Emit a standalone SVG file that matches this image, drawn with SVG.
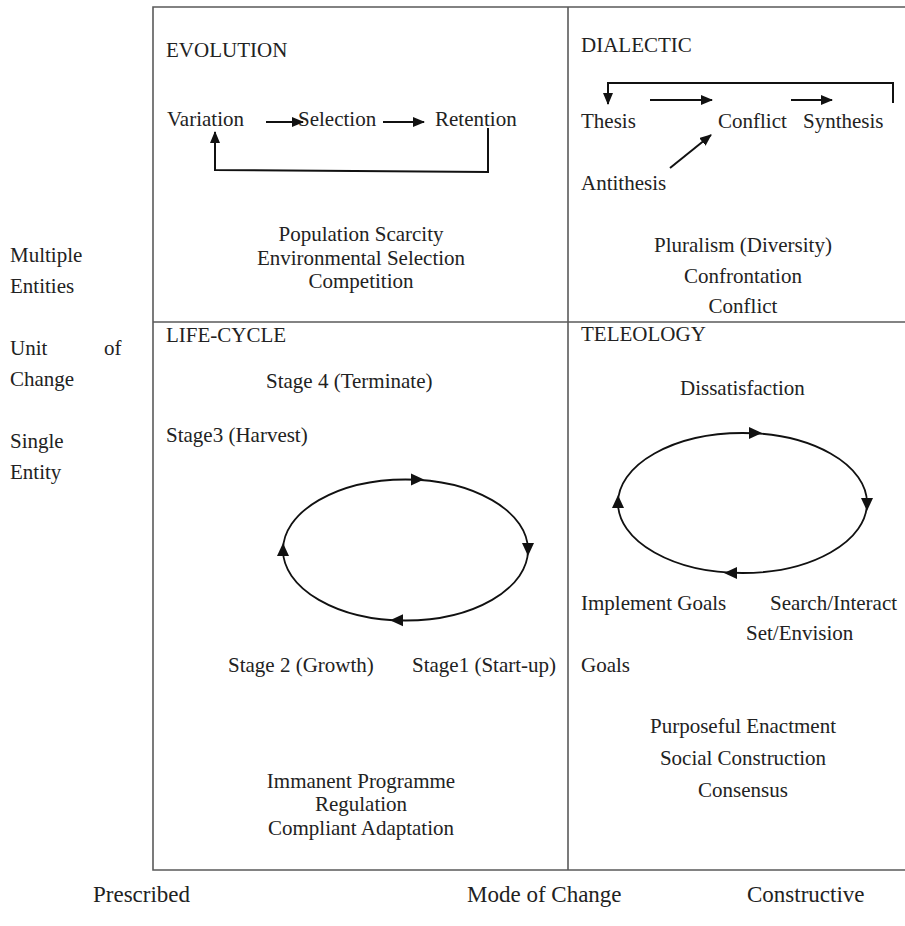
<svg xmlns="http://www.w3.org/2000/svg" width="905" height="926" viewBox="0 0 905 926">
  <style>
    text { font-family: "Liberation Serif", "Times New Roman", serif; font-size: 21px; fill: #222; }
    .axis { font-size: 23px; }
    .mid { text-anchor: middle; }
    .frame { stroke: #5a5a5a; stroke-width: 1.6; fill: none; }
    .flow { stroke: #111; stroke-width: 2; fill: none; }
    .ring { stroke: #111; stroke-width: 1.8; fill: none; }
    .head { fill: #111; }
  </style>
  <defs>
    <marker id="arrow" viewBox="0 0 12 10" refX="11" refY="5" markerWidth="12" markerHeight="10" markerUnits="userSpaceOnUse" orient="auto">
      <path d="M0,0 L12,5 L0,10 Z" fill="#111"/>
    </marker>
    <!-- arrowhead with its tip at the origin, pointing along +x -->
    <path id="tip" d="M0,0 L-13,-6 L-13,6 Z"/>
  </defs>

  <rect width="905" height="926" fill="#fff"/>

  <!-- quadrant frame -->
  <g id="frame">
    <path class="frame" d="M905,7 H153 V870 H905"/>
    <line class="frame" x1="568" y1="7" x2="568" y2="870"/>
    <line class="frame" x1="153" y1="322" x2="905" y2="322"/>
  </g>

  <!-- axis labels -->
  <g id="unit-axis">
    <text x="10" y="262">Multiple</text>
    <text x="10" y="293">Entities</text>
    <text x="10" y="355">Unit</text>
    <text x="104" y="355">of</text>
    <text x="10" y="386">Change</text>
    <text x="10" y="448">Single</text>
    <text x="10" y="479">Entity</text>
  </g>
  <g id="mode-axis">
    <text class="axis" x="93" y="902">Prescribed</text>
    <text class="axis" x="467" y="902">Mode of Change</text>
    <text class="axis" x="747" y="902">Constructive</text>
  </g>

  <!-- EVOLUTION -->
  <g id="evolution">
    <text x="166" y="57">EVOLUTION</text>
    <text x="361" y="241" class="mid">Population Scarcity</text>
    <text x="361" y="265" class="mid">Environmental Selection</text>
    <text x="361" y="288" class="mid">Competition</text>
  </g>
  <g id="variation"><text x="167" y="126">Variation</text></g>
  <g id="selection"><text x="298" y="126">Selection</text></g>
  <g id="retention"><text x="435" y="126">Retention</text></g>

  <!-- DIALECTIC -->
  <g id="dialectic">
    <text x="581" y="52">DIALECTIC</text>
    <text x="743" y="252" class="mid">Pluralism (Diversity)</text>
    <text x="743" y="283" class="mid">Confrontation</text>
    <text x="743" y="313" class="mid">Conflict</text>
  </g>
  <g id="thesis"><text x="581" y="128">Thesis</text></g>
  <g id="conflict"><text x="718" y="128">Conflict</text></g>
  <g id="synthesis"><text x="803" y="128">Synthesis</text></g>
  <g id="antithesis"><text x="581" y="190">Antithesis</text></g>

  <!-- LIFE-CYCLE -->
  <g id="life-cycle">
    <text x="166" y="342">LIFE-CYCLE</text>
    <text x="361" y="788" class="mid">Immanent Programme</text>
    <text x="361" y="811" class="mid">Regulation</text>
    <text x="361" y="835" class="mid">Compliant Adaptation</text>
  </g>
  <g id="stage4"><text x="266" y="388">Stage 4 (Terminate)</text></g>
  <g id="stage3"><text x="166" y="442">Stage3 (Harvest)</text></g>
  <g id="stage2"><text x="228" y="672">Stage 2 (Growth)</text></g>
  <g id="stage1"><text x="412" y="672">Stage1 (Start-up)</text></g>

  <!-- TELEOLOGY -->
  <g id="teleology">
    <text x="581" y="341">TELEOLOGY</text>
    <text x="743" y="733" class="mid">Purposeful Enactment</text>
    <text x="743" y="765" class="mid">Social Construction</text>
    <text x="743" y="797" class="mid">Consensus</text>
  </g>
  <g id="dissatisfaction"><text x="680" y="395">Dissatisfaction</text></g>
  <g id="search"><text x="770" y="610">Search/Interact</text></g>
  <g id="envision"><text x="746" y="640">Set/Envision</text></g>
  <g id="goals"><text x="581" y="672">Goals</text></g>
  <g id="implement"><text x="581" y="610">Implement Goals</text></g>

  <!-- connectors -->
  <g id="connectors">
    <!-- evolution -->
    <line class="flow" x1="266" y1="122" x2="303" y2="122" marker-end="url(#arrow)"/>
    <line class="flow" x1="383" y1="122" x2="424" y2="122" marker-end="url(#arrow)"/>
    <polyline class="flow" points="488,128 488,172 215,170 215,132" marker-end="url(#arrow)"/>
    <!-- dialectic -->
    <polyline class="flow" points="893,103 893,83 608,83 608,104" marker-end="url(#arrow)"/>
    <line class="flow" x1="650" y1="100" x2="712" y2="100" marker-end="url(#arrow)"/>
    <line class="flow" x1="791" y1="100" x2="832" y2="100" marker-end="url(#arrow)"/>
    <line class="flow" x1="670" y1="168" x2="711" y2="135" marker-end="url(#arrow)"/>
    <!-- life-cycle ring -->
    <ellipse class="ring" cx="405.5" cy="550" rx="122.5" ry="70.5"/>
    <use href="#tip" class="head" transform="translate(424 479.5)"/>
    <use href="#tip" class="head" transform="translate(528 556) rotate(90)"/>
    <use href="#tip" class="head" transform="translate(390 620.3) rotate(180)"/>
    <use href="#tip" class="head" transform="translate(283 543) rotate(-90)"/>
    <!-- teleology ring -->
    <ellipse class="ring" cx="742.5" cy="503" rx="124.5" ry="70"/>
    <use href="#tip" class="head" transform="translate(762 433)"/>
    <use href="#tip" class="head" transform="translate(867 511) rotate(90)"/>
    <use href="#tip" class="head" transform="translate(724 573) rotate(180)"/>
    <use href="#tip" class="head" transform="translate(618 495) rotate(-90)"/>
  </g>
</svg>
